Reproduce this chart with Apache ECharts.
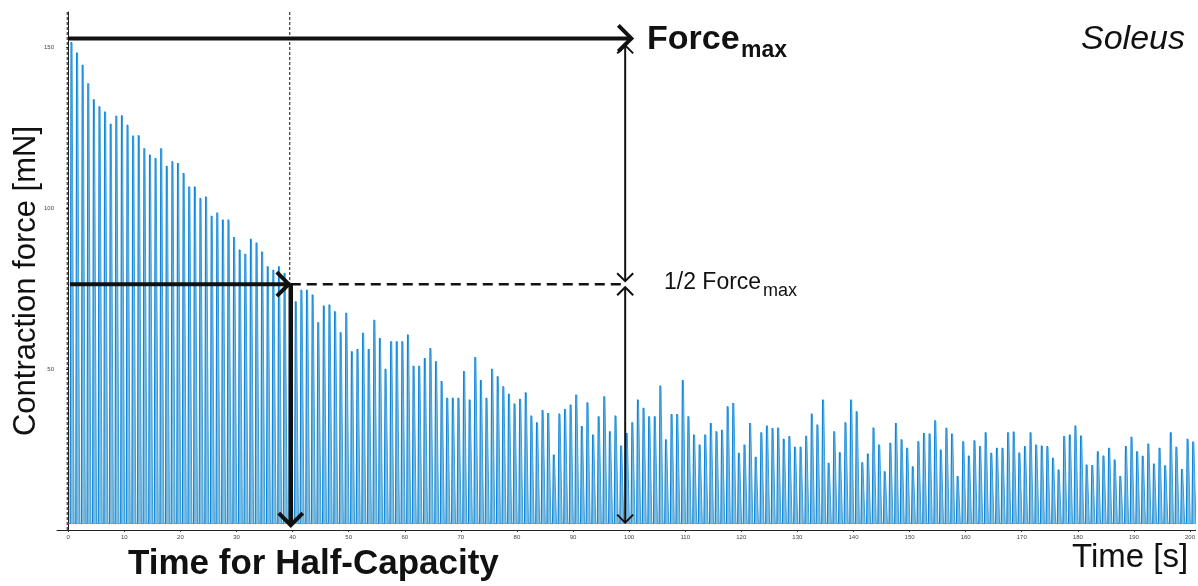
<!DOCTYPE html>
<html>
<head>
<meta charset="utf-8">
<title>Soleus fatigue</title>
<script src="https://cdn.jsdelivr.net/npm/echarts@6/dist/echarts.min.js"></script>
<style>
  html, body { margin: 0; padding: 0; background: #ffffff; }
  #chart { width: 1198px; height: 586px; }
</style>
</head>
<body>
<div id="chart"></div>
<script>
// Peak twitch force (mN) of each contraction, one stimulus per second
const peaks000 = [151.5,148.2,144.4,138.7,133.7,131.5,129.9,126.1,128.6,128.7,
                  125.8,122.4,122.5,118.5,116.5,115.4,118.5,113,114.4,113.9,
                  110.8,106.6,106.6,103,103.5,97.5,98.5,96.3,96.3,90.9,
                  87,85.7,90.3,89.2,86.4,81.8,80.7,81.8,79.7,72,
                  70.9,74.5,74.5,73,64.4,69.6,69.9,67.8,61.3,67.3];
const peaks050 = [55.4,56.1,61.1,56.1,65.2,59.5,49.9,58.5,58.5,58.5,
                  60.6,50.9,50.9,53.3,56.4,52.3,46.1,40.9,40.9,40.9,
                  49.2,40.4,53.6,46.4,40.9,49.9,47.6,44.5,42.2,39.1,
                  40.6,42.6,35.4,33.3,37.1,36.2,23.3,36,37.4,38.8,
                  41.9,32.1,39.5,29.5,35.2,41.4,30.5,35.4,26.1,30];
const peaks100 = [33.3,40.4,37.8,35.2,35.2,44.7,28,35.9,35.9,46.4,
                  35.2,29.5,26.4,29.5,33.1,30.5,31,38.3,39.3,23.8,
                  26.4,33.1,22.6,30.2,32.3,31.5,31.7,28.2,29,25.7,
                  25.7,29.1,36,32.6,40.4,20.7,30.5,24,33.3,40.4,
                  36.7,20.9,23.6,31.7,26.4,18.1,26.9,33.1,28,25.4];
const peaks150 = [19.6,27.4,30,29.8,33.9,24.8,31.6,29.8,16.6,27.4,
                  23,27.7,25.9,30.2,23.8,25.4,25.4,30.2,30.4,23.9,
                  25.9,30.2,26.4,26.1,25.9,22.3,18.6,29,29.5,32.3,
                  29.2,20.2,20,24.3,23,25.4,21.7,16.6,25.9,28.8,
                  24.3,22.9,26.7,20.5,25.4,19.9,30.2,25.7,18.8,28.2,
                  27.3];

const firstPulse = 0.5;   // s, time of the first peak
const stimPeriod = 1.0;   // s, 1 Hz stimulation
const restingForce = 2;   // mN between contractions

const xTicks = [0,10,20,30,40,50,60,70,80,90,100,110,120,130,140,150,160,170,180,190,200];
const yTicks = [50,100,150];

// Fatigue markers
const forceMax = 152.8;
const halfForce = forceMax / 2;
const tStart = 0;
const tHalf = 39.5;
const tMark = 99.3;
const tMaxArrowEnd = 100.4;

const peaks = peaks000.concat(peaks050, peaks100, peaks150);
const pulses = peaks.map((p, k) => [firstPulse + k * stimPeriod, p]);

const DARK = '#0d86e0';
const MID = '#3e9dd6';
const LIGHT = '#80bddb';
const INK = '#111111';

function headRight(tip, s) { return [[tip[0] - s, tip[1] - s], tip, [tip[0] - s, tip[1] + s]]; }
function headDown(tip, s)  { return [[tip[0] - s, tip[1] - s], tip, [tip[0] + s, tip[1] - s]]; }
function headUp(tip, s)    { return [[tip[0] - s, tip[1] + s], tip, [tip[0] + s, tip[1] + s]]; }

function seg(a, b, w, dash) {
  return { type: 'line', shape: { x1: a[0], y1: a[1], x2: b[0], y2: b[1] },
           style: { stroke: INK, lineWidth: w, lineDash: dash || null } };
}
function head(pts, w) {
  return { type: 'polyline', shape: { points: pts },
           style: { stroke: INK, lineWidth: w, fill: null, lineJoin: 'miter' } };
}

const chart = echarts.init(document.getElementById('chart'), null, { renderer: 'canvas' });

chart.setOption({
  animation: false,
  backgroundColor: '#ffffff',
  grid: { left: 57, right: 0, top: 12, bottom: 56 },
  xAxis: {
    type: 'value', min: -2, max: 201,
    axisLine: { show: true, lineStyle: { color: '#222', width: 1 } },
    axisTick: { show: true, length: 2, customValues: xTicks, lineStyle: { color: '#333' } },
    axisLabel: { customValues: xTicks, fontSize: 6, color: '#444', margin: 4, fontFamily: 'Liberation Sans' },
    splitLine: { show: false }
  },
  yAxis: {
    type: 'value', min: 0, max: 161,
    axisLine: { show: true, lineStyle: { color: '#222', width: 1 } },
    axisTick: { show: true, length: 2, customValues: yTicks, lineStyle: { color: '#333' } },
    axisLabel: { customValues: yTicks, fontSize: 6, color: '#444', margin: 3, fontFamily: 'Liberation Sans' },
    splitLine: { show: false }
  },
  series: [
    {
      name: 'resting',
      type: 'line',
      data: [[tStart, restingForce], [201, restingForce]],
      showSymbol: false,
      lineStyle: { color: MID, width: 1 },
      silent: true, z: 1
    },
    {
      name: 'force',
      type: 'custom',
      data: pulses,
      clip: true,
      silent: true,
      z: 2,
      renderItem: function (params, api) {
        const t = api.value(0), p = api.value(1);
        const a = api.coord([t - 0.15, restingForce]);
        const b = api.coord([t, p]);
        const c = api.coord([t + 0.18, p]);
        const d = api.coord([t + 0.55, restingForce]);
        return {
          type: 'group',
          children: [
            { type: 'polygon', shape: { points: [a, b, c, d] }, style: { fill: LIGHT } },
            { type: 'polyline', shape: { points: [c, d] }, style: { stroke: MID, lineWidth: 1, fill: null } },
            { type: 'polyline', shape: { points: [a, b, c] }, style: { stroke: DARK, lineWidth: 1.2, fill: null } }
          ]
        };
      }
    },
    {
      name: 'markers',
      type: 'custom',
      data: [[0]],
      clip: false,
      silent: true,
      z: 10,
      renderItem: function (params, api) {
        const top = api.coord([tStart, 161]);
        const s0 = api.coord([tStart, 0]);
        const mx0 = api.coord([tStart, forceMax]);
        const mx1 = api.coord([tMaxArrowEnd, forceMax]);
        const h0 = api.coord([tStart + 0.3, halfForce]);
        const h1 = api.coord([tHalf, halfForce]);
        const hb = api.coord([tHalf, 1.5]);
        const ht = api.coord([tHalf, 161]);
        const m0 = api.coord([tMark, forceMax]);
        const mh = api.coord([tMark, halfForce]);
        const mb = api.coord([tMark, 2.3]);
        return {
          type: 'group',
          children: [
            // start-of-stimulation and half-capacity guides
            seg([top[0] - 1, top[1]], [s0[0] - 1, s0[1]], 1, [3, 2]),
            seg(ht, h1, 1, [3, 2]),
            // Force max
            seg(mx0, [mx1[0] - 2, mx1[1]], 4),
            head(headRight(mx1, 13), 4),
            // half force to the half-capacity time
            seg(h0, [h1[0] - 2, h1[1]], 4),
            head(headRight([h1[0] - 1, h1[1]], 12), 4),
            seg([h1[0] + 1, h1[1]], [mh[0], mh[1]], 2.5, [10, 6]),
            seg([h1[0] + 1, h1[1]], [hb[0] + 1, hb[1] - 2], 4.5),
            head(headDown([hb[0] + 1, hb[1]], 12), 4),
            // double arrows at the reference time
            seg([m0[0], m0[1] + 8], [mh[0], mh[1] - 4], 2),
            head(headUp([m0[0], m0[1] + 7], 8), 2),
            head(headDown([mh[0], mh[1] - 3], 8), 2),
            seg([mh[0], mh[1] + 4], [mb[0], mb[1]], 2),
            head(headUp([mh[0], mh[1] + 3], 8), 2),
            head(headDown([mb[0], mb[1]], 8), 2)
          ]
        };
      }
    }
  ],
  graphic: [
    { type: 'text', x: 647, y: 40, style: { text: 'Force', font: 'bold 34px "Liberation Sans"', fill: INK, verticalAlign: 'middle' } },
    { type: 'text', x: 741, y: 51, style: { text: 'max', font: 'bold 23px "Liberation Sans"', fill: INK, verticalAlign: 'middle' } },
    { type: 'text', x: 1081, y: 40, style: { text: 'Soleus', font: 'italic 34px "Liberation Sans"', fill: INK, verticalAlign: 'middle' } },
    { type: 'text', x: 664, y: 283, style: { text: '1/2 Force', font: '23px "Liberation Sans"', fill: INK, verticalAlign: 'middle' } },
    { type: 'text', x: 763, y: 291, style: { text: 'max', font: '18px "Liberation Sans"', fill: INK, verticalAlign: 'middle' } },
    { type: 'text', x: 128, y: 564, style: { text: 'Time for Half-Capacity', font: 'bold 35px "Liberation Sans"', fill: INK, verticalAlign: 'middle' } },
    { type: 'text', x: 1072, y: 558, style: { text: 'Time [s]', font: '33px "Liberation Sans"', fill: INK, verticalAlign: 'middle' } },
    { type: 'text', x: 26, y: 281, rotation: Math.PI / 2,
      style: { text: 'Contraction force [mN]', font: '31px "Liberation Sans"', fill: INK, align: 'center', verticalAlign: 'middle' } }
  ]
});
</script>
</body>
</html>
